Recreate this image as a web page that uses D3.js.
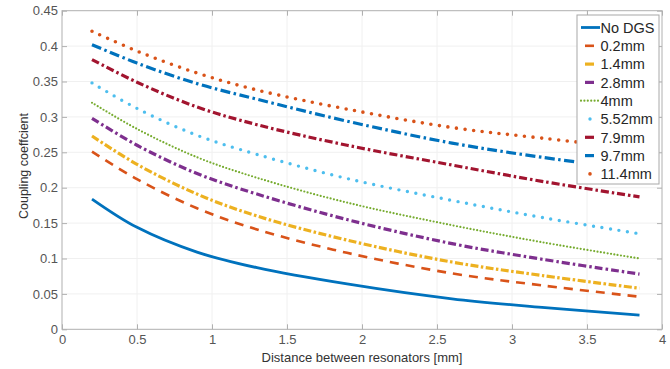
<!DOCTYPE html>
<html>
<head>
<meta charset="utf-8">
<script src="https://cdn.jsdelivr.net/npm/d3@7"></script>
<style>
  html, body { margin: 0; padding: 0; background: #fff; }
  #chart { width: 670px; height: 369px; }
  text { font-family: 'Liberation Sans', Arial, sans-serif; }
</style>
</head>
<body>
<div id="chart"></div>
<script>
/* Coupling coefficient vs distance between resonators, one line per DGS size */

const distances = [0.2, 0.5, 0.9, 1.3, 1.9, 2.6, 3.2, 3.85];

const seriesNames = ['No DGS', '0.2mm', '1.4mm', '2.8mm', '4mm', '5.52mm', '7.9mm', '9.7mm', '11.4mm'];

const noDgs   = [0.184, 0.144, 0.109, 0.087, 0.064, 0.043, 0.031, 0.020];
const dgs0_2  = [0.251, 0.212, 0.171, 0.141, 0.108, 0.079, 0.062, 0.046];
const dgs1_4  = [0.273, 0.233, 0.191, 0.160, 0.126, 0.095, 0.076, 0.058];
const dgs2_8  = [0.298, 0.260, 0.220, 0.191, 0.155, 0.121, 0.099, 0.078];
const dgs4    = [0.320, 0.283, 0.243, 0.214, 0.179, 0.147, 0.123, 0.100];
const dgs5_52 = [0.348, 0.312, 0.274, 0.247, 0.213, 0.182, 0.158, 0.135];
const dgs7_9  = [0.381, 0.349, 0.314, 0.289, 0.260, 0.232, 0.209, 0.187];
const dgs9_7  = [0.402, 0.376, 0.347, 0.325, 0.294, 0.263, 0.243, 0.225];
const dgs11_4 = [0.421, 0.393, 0.362, 0.338, 0.311, 0.285, 0.270, 0.255];

const xTicks = [0, 0.5, 1, 1.5, 2, 2.5, 3, 3.5, 4];
const yTicks = [0, 0.05, 0.1, 0.15, 0.2, 0.25, 0.3, 0.35, 0.4, 0.45];

(function () {
  const allValues = [noDgs, dgs0_2, dgs1_4, dgs2_8, dgs4, dgs5_52, dgs7_9, dgs9_7, dgs11_4];

  // MATLAB default colour order, line look per series
  const STYLES = [
    { color: '#0072BD', width: 2.8, dash: null, cap: 'butt', key: 'line' },
    { color: '#D95319', width: 2.6, dash: '9,7', cap: 'butt', key: 'dash' },
    { color: '#EDB120', width: 3.2, dash: '8,2.5,2.5,2.5', cap: 'butt', key: 'dash' },
    { color: '#7E2F8E', width: 3.2, dash: '8,3,2.5,3', cap: 'butt', key: 'dash' },
    { color: '#77AC30', width: 2.2, dash: '0,3.4', cap: 'round', key: 'dots' },
    { color: '#4DBEEE', width: 3.4, dash: '0,8.6', cap: 'round', key: 'dot' },
    { color: '#A2142F', width: 3.2, dash: '8,3,2.5,3', cap: 'butt', key: 'dash' },
    { color: '#0072BD', width: 3.2, dash: '10,3.5,2.5,3.5', cap: 'butt', key: 'dash' },
    { color: '#D95319', width: 3.6, dash: '0,8.6', cap: 'round', key: 'dot' },
  ];

  const W = 670, H = 369;
  const margin = { top: 10.7, right: 8, bottom: 39.7, left: 62 };
  const width = W - margin.left - margin.right;
  const height = H - margin.top - margin.bottom;

  const svg = d3.select('#chart')
    .append('svg')
    .attr('width', W)
    .attr('height', H)
    .attr('viewBox', `0 0 ${W} ${H}`);

  const g = svg.append('g')
    .attr('transform', `translate(${margin.left},${margin.top})`);

  const x = d3.scaleLinear().domain([0, 4]).range([0, width]);
  const y = d3.scaleLinear().domain([0, 0.45]).range([height, 0]);

  // faint grid
  const grid = g.append('g').attr('class', 'grid');
  grid.selectAll('.gx').data(xTicks.slice(1, -1)).enter().append('line')
    .attr('x1', d => x(d)).attr('x2', d => x(d))
    .attr('y1', 0).attr('y2', height)
    .attr('stroke', '#f0f0f0').attr('stroke-width', 1);
  grid.selectAll('.gy').data(yTicks.slice(1, -1)).enter().append('line')
    .attr('x1', 0).attr('x2', width)
    .attr('y1', d => y(d)).attr('y2', d => y(d))
    .attr('stroke', '#f0f0f0').attr('stroke-width', 1);

  const line = d3.line()
    .x(d => x(d[0]))
    .y(d => y(d[1]))
    .curve(d3.curveCatmullRom.alpha(0.5));

  allValues.forEach((vals, i) => {
    const s = STYLES[i];
    const pts = distances.map((d, j) => [d, vals[j]]);
    g.append('path')
      .datum(pts)
      .attr('fill', 'none')
      .attr('stroke', s.color)
      .attr('stroke-width', s.width)
      .attr('stroke-linecap', s.cap)
      .attr('stroke-dasharray', s.dash)
      .attr('d', line);
  });

  // axes, ticks inward on all four sides
  const axisColor = '#b0b0b0';
  const labelColor = '#555';

  function styleAxis(sel) {
    sel.select('.domain').remove();
    sel.selectAll('.tick line').attr('stroke', axisColor);
    sel.selectAll('.tick text')
      .style('font-size', '13px')
      .attr('fill', labelColor);
  }

  g.append('g')
    .attr('transform', `translate(0,${height})`)
    .call(d3.axisBottom(x).tickValues(xTicks).tickSize(-5).tickPadding(5).tickFormat(d3.format('')))
    .call(styleAxis);

  g.append('g')
    .call(d3.axisLeft(y).tickValues(yTicks).tickSize(-5).tickPadding(4).tickFormat(d3.format('')))
    .call(styleAxis);

  g.append('g')
    .call(d3.axisTop(x).tickValues(xTicks).tickSize(-5).tickFormat(''))
    .call(styleAxis);

  g.append('g')
    .attr('transform', `translate(${width},0)`)
    .call(d3.axisRight(y).tickValues(yTicks).tickSize(-5).tickFormat(''))
    .call(styleAxis);

  g.append('rect')
    .attr('width', width).attr('height', height)
    .attr('fill', 'none')
    .attr('stroke', axisColor)
    .attr('stroke-width', 1);

  g.append('text')
    .attr('text-anchor', 'middle')
    .attr('x', width / 2).attr('y', height + 33)
    .style('font-size', '13px')
    .attr('fill', '#333')
    .text('Distance between resonators [mm]');

  g.append('text')
    .attr('text-anchor', 'middle')
    .attr('transform', `translate(-34,${height / 2 - 4})rotate(-90)`)
    .style('font-size', '12.5px')
    .attr('fill', '#333')
    .text('Coupling coeffcient');

  // legend
  const lg = svg.append('g').attr('transform', 'translate(577,15)');
  lg.append('rect')
    .attr('width', 82).attr('height', 169)
    .attr('fill', '#fff')
    .attr('stroke', '#a8a8a8')
    .attr('stroke-width', 1);

  seriesNames.forEach((name, i) => {
    const s = STYLES[i];
    const cy = 12.5 + i * 18.3;
    const row = lg.append('g');
    if (s.key === 'dot') {
      row.append('circle')
        .attr('cx', 13).attr('cy', cy).attr('r', s.width / 2)
        .attr('fill', s.color);
    } else {
      const x1 = s.key === 'dash' ? 8 : 4;
      const x2 = s.key === 'dash' ? 17 : 23;
      row.append('line')
        .attr('x1', x1).attr('x2', x2)
        .attr('y1', cy).attr('y2', cy)
        .attr('stroke', s.color)
        .attr('stroke-width', s.width)
        .attr('stroke-linecap', s.cap)
        .attr('stroke-dasharray', s.key === 'dots' ? s.dash : null);
    }
    row.append('text')
      .attr('x', 23.5).attr('y', cy)
      .attr('dy', '0.36em')
      .style('font-size', '14.5px')
      .attr('fill', '#262626')
      .text(name);
  });
})();
</script>
</body>
</html>
